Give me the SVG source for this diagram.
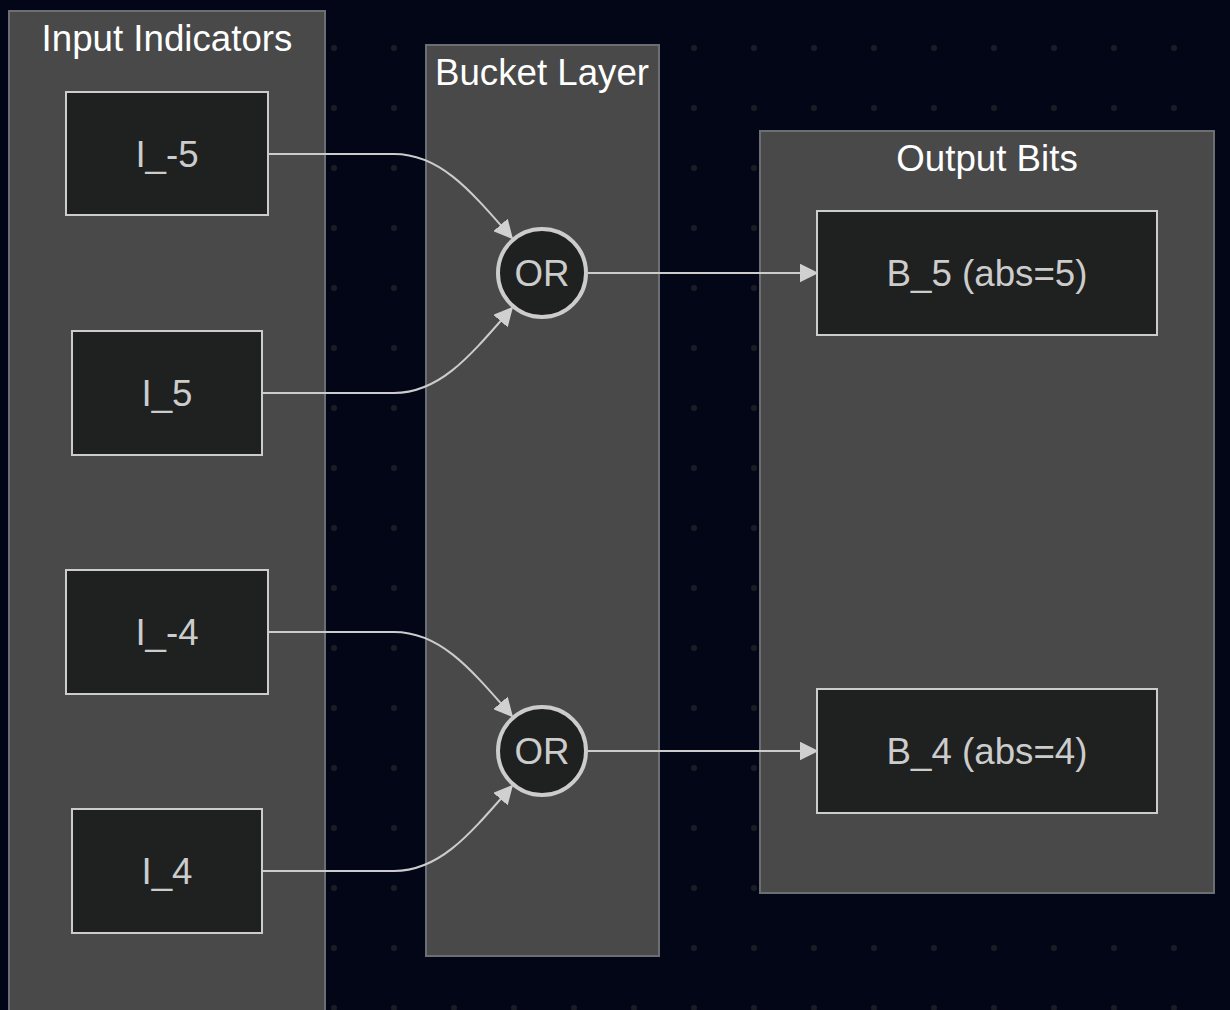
<svg xmlns="http://www.w3.org/2000/svg" width="1230" height="1010" viewBox="0 0 1230 1010">
<defs>
<pattern id="dots" x="0" y="0" width="60" height="60" patternUnits="userSpaceOnUse">
<circle cx="34" cy="48" r="3" fill="#1b1d25"/>
</pattern>
<marker id="arrow" viewBox="0 0 12 12" refX="11" refY="6" markerWidth="19" markerHeight="19" markerUnits="userSpaceOnUse" orient="auto">
<path d="M0,0 L12,6 L0,12 z" fill="#d0d0d0"/>
</marker>
</defs>
<style>
.cluster rect{fill:#484948;stroke:#6b6e73;stroke-width:2}
.ctitle{font-family:"Liberation Sans",Arial,sans-serif;font-size:36.7px;fill:#ffffff;text-anchor:middle}
.node rect,.node circle{fill:#1f2020;stroke:#cccccc;stroke-width:2}
.node circle{stroke-width:4}
.ntext{font-family:"Liberation Sans",Arial,sans-serif;font-size:36.7px;fill:#cccccc;text-anchor:middle;dominant-baseline:central}
.edge{fill:none;stroke:#cccccc;stroke-width:2;marker-end:url(#arrow)}
</style>
<rect width="1230" height="1010" fill="#020617"/>
<rect width="1230" height="1010" fill="url(#dots)"/>

<g id="cluster-input" class="cluster">
<rect x="9" y="11" width="316" height="1010"/>
<text class="ctitle" x="167" y="51">Input Indicators</text>
</g>
<g id="cluster-bucket" class="cluster">
<rect x="426" y="45" width="233" height="911"/>
<text class="ctitle" x="542" y="85">Bucket Layer</text>
</g>
<g id="cluster-output" class="cluster">
<rect x="760" y="131" width="454" height="762"/>
<text class="ctitle" x="987" y="171">Output Bits</text>
</g>

<g id="connectors">
<path class="edge" d="M268,154 L394,154 C440,154 470,190 512,238"/>
<path class="edge" d="M262,393 L394,393 C440,393 470,356 512,308"/>
<path class="edge" d="M268,632 L394,632 C440,632 470,668 512,716"/>
<path class="edge" d="M262,871 L394,871 C440,871 470,834 512,786"/>
<path class="edge" d="M588,273 L817,273"/>
<path class="edge" d="M588,751 L817,751"/>
</g>

<g id="node-Im5" class="node">
<rect x="66" y="92" width="202" height="123"/>
<text class="ntext" x="167" y="154">I_-5</text>
</g>
<g id="node-I5" class="node">
<rect x="72" y="331" width="190" height="124"/>
<text class="ntext" x="167" y="393">I_5</text>
</g>
<g id="node-Im4" class="node">
<rect x="66" y="570" width="202" height="124"/>
<text class="ntext" x="167" y="632">I_-4</text>
</g>
<g id="node-I4" class="node">
<rect x="72" y="809" width="190" height="124"/>
<text class="ntext" x="167" y="871">I_4</text>
</g>
<g id="node-OR5" class="node">
<circle cx="542" cy="273" r="44"/>
<text class="ntext" x="542" y="273">OR</text>
</g>
<g id="node-OR4" class="node">
<circle cx="542" cy="751" r="44"/>
<text class="ntext" x="542" y="751">OR</text>
</g>
<g id="node-B5" class="node">
<rect x="817" y="211" width="340" height="124"/>
<text class="ntext" x="987" y="273">B_5 (abs=5)</text>
</g>
<g id="node-B4" class="node">
<rect x="817" y="689" width="340" height="124"/>
<text class="ntext" x="987" y="751">B_4 (abs=4)</text>
</g>
</svg>
